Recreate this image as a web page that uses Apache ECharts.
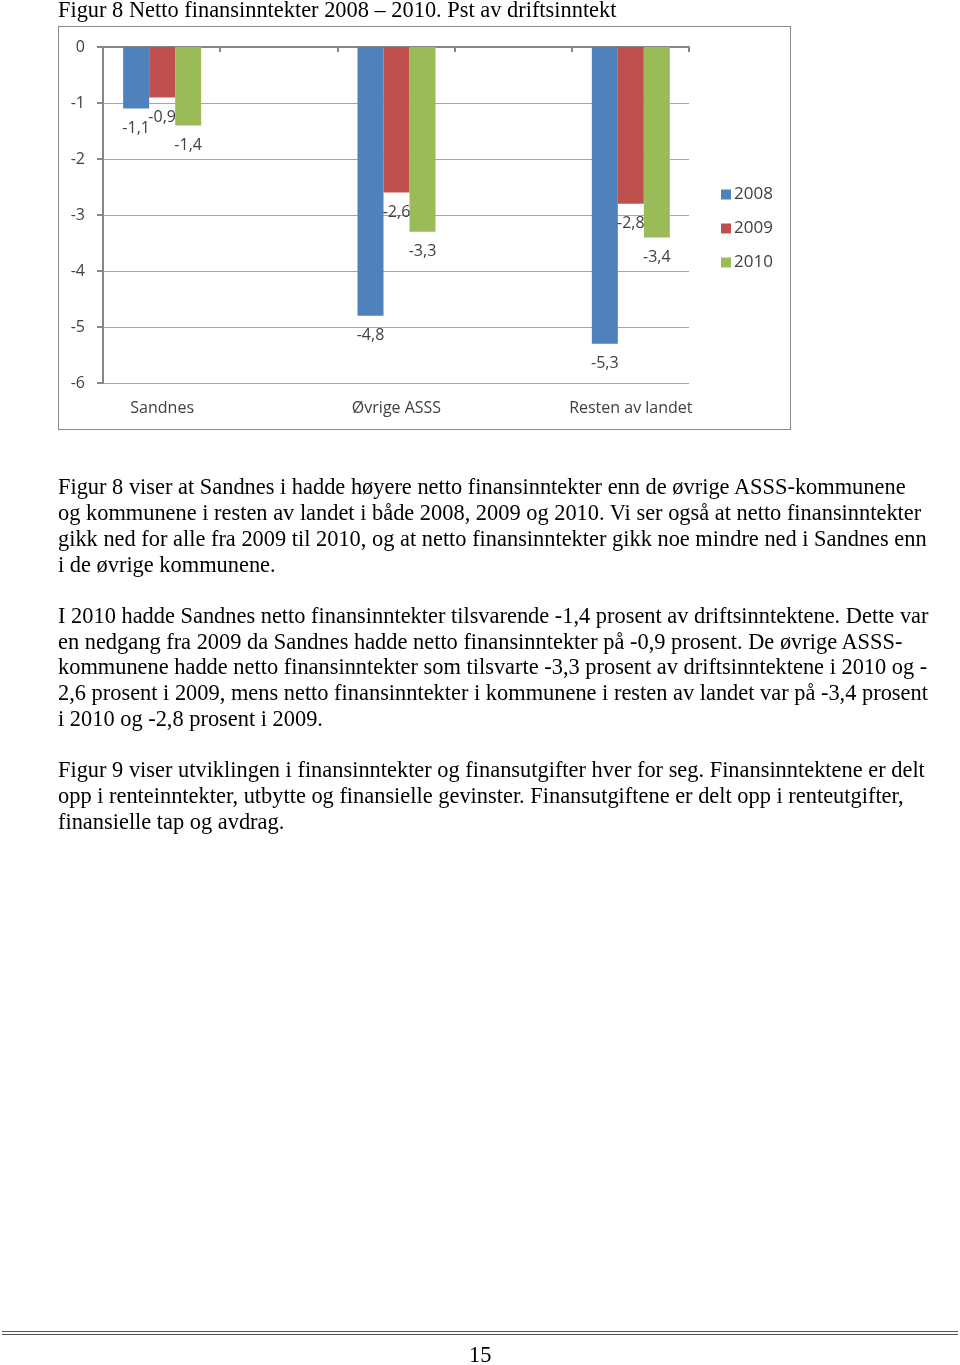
<!DOCTYPE html>
<html>
<head>
<meta charset="utf-8">
<script src="https://cdn.jsdelivr.net/npm/echarts@6/dist/echarts.min.js"></script>
<style>
  html, body { margin:0; padding:0; background:#fff; }
  #page { position:relative; width:960px; height:1365px; overflow:hidden; }
  #chart { position:absolute; left:0; top:0; width:960px; height:1365px; }
  .t { position:absolute; font-family:"Liberation Serif","Times New Roman",serif; font-size:22.4px; color:#000; white-space:nowrap; line-height:26px; }
  #box { position:absolute; left:58px; top:26px; width:731px; height:402px; border:1px solid #8c8c8c; }
  #rule1 { position:absolute; left:2px; width:956px; top:1331px; height:1px; background:#555; }
  #rule2 { position:absolute; left:2px; width:956px; top:1334px; height:1px; background:#555; }
</style>
</head>
<body>
<div id="page">
  <div id="box"></div>
  <div id="chart"></div>
  <div class="t" style="left:58px;top:-3px;">Figur 8 Netto finansinntekter 2008 – 2010. Pst av driftsinntekt</div>

  <div class="t" style="left:58px;top:474px;">Figur 8 viser at Sandnes i hadde høyere netto finansinntekter enn de øvrige ASSS-kommunene</div>
  <div class="t" style="left:58px;top:500px;">og kommunene i resten av landet i både 2008, 2009 og 2010. Vi ser også at netto finansinntekter</div>
  <div class="t" style="left:58px;top:526px;">gikk ned for alle fra 2009 til 2010, og at netto finansinntekter gikk noe mindre ned i Sandnes enn</div>
  <div class="t" style="left:58px;top:552px;">i de øvrige kommunene.</div>

  <div class="t" style="left:58px;top:603px;">I 2010 hadde Sandnes netto finansinntekter tilsvarende -1,4 prosent av driftsinntektene. Dette var</div>
  <div class="t" style="left:58px;top:629px;">en nedgang fra 2009 da Sandnes hadde netto finansinntekter på -0,9 prosent. De øvrige ASSS-</div>
  <div class="t" style="left:58px;top:654px;">kommunene hadde netto finansinntekter som tilsvarte -3,3 prosent av driftsinntektene i 2010 og -</div>
  <div class="t" style="left:58px;top:680px;">2,6 prosent i 2009, mens netto finansinntekter i kommunene i resten av landet var på -3,4 prosent</div>
  <div class="t" style="left:58px;top:706px;">i 2010 og -2,8 prosent i 2009.</div>

  <div class="t" style="left:58px;top:757px;">Figur 9 viser utviklingen i finansinntekter og finansutgifter hver for seg. Finansinntektene er delt</div>
  <div class="t" style="left:58px;top:783px;">opp i renteinntekter, utbytte og finansielle gevinster. Finansutgiftene er delt opp i renteutgifter,</div>
  <div class="t" style="left:58px;top:809px;">finansielle tap og avdrag.</div>

  <div id="rule1"></div>
  <div id="rule2"></div>
  <div class="t" style="left:469px;top:1342px;">15</div>
</div>
<script>
const categories = ['Sandnes', 'Øvrige ASSS', 'Resten av landet'];
const values2008 = [-1.1, -4.8, -5.3];
const values2009 = [-0.9, -2.6, -2.8];
const values2010 = [-1.4, -3.3, -3.4];
const seriesNames = ['2008', '2009', '2010'];
const colors = ['#4f81bd', '#c0504d', '#9bbb59'];

const chart = echarts.init(document.getElementById('chart'), null, {renderer:'canvas'});
const font = '"Open Sans", "Liberation Sans", sans-serif';
const fmt = p => p.value.toFixed(1).replace('.', ',');
function bar(name, data, color) {
  return {
    name: name, type: 'bar', xAxisIndex: 1, yAxisIndex: 1, data: data,
    barWidth: 26, barGap: '0%',
    itemStyle: { color: color },
    label: { show: true, position: 'bottom', distance: 12, formatter: fmt,
             fontFamily: font, fontSize: 16, color: '#404040' }
  };
}
chart.setOption({
  animation: false,
  textStyle: { fontFamily: font },
  grid: [
    { left: 103, top: 47, width: 586, height: 336 },
    { left: 45, top: 47, width: 703, height: 336 }
  ],
  legend: {
    orient: 'vertical', left: 716, top: 181, itemGap: 17,
    itemWidth: 10, itemHeight: 10, icon: 'rect',
    textStyle: { fontFamily: font, fontSize: 17, color: '#404040', padding: [0,0,0,-2] },
    data: seriesNames
  },
  xAxis: [
    { gridIndex: 0, type: 'value', position: 'top', min: 0, max: 5, interval: 1,
      axisLine: { show: true, lineStyle: { color: '#868686', width: 2 } },
      axisTick: { show: true, inside: true, length: 5, lineStyle: { color: '#868686', width: 2 } },
      axisLabel: { show: false }, splitLine: { show: false } },
    { gridIndex: 1, type: 'category', data: categories, position: 'bottom',
      axisLine: { show: false }, axisTick: { show: false },
      axisLabel: { margin: 17, fontFamily: font, fontSize: 16, color: '#404040' } }
  ],
  yAxis: [
    { gridIndex: 0, type: 'value', min: -6, max: 0, interval: 1,
      axisLine: { show: true, lineStyle: { color: '#868686', width: 2 } },
      axisTick: { show: true, length: 6, lineStyle: { color: '#868686', width: 2 } },
      axisLabel: { margin: 18, fontFamily: font, fontSize: 16, color: '#404040' },
      splitLine: { show: true, lineStyle: { color: '#a6a6a6', width: 1 } } },
    { gridIndex: 1, type: 'value', min: -6, max: 0, interval: 1, show: false }
  ],
  series: [
    bar(seriesNames[0], values2008, colors[0]),
    bar(seriesNames[1], values2009, colors[1]),
    bar(seriesNames[2], values2010, colors[2])
  ]
});
</script>
</body>
</html>
